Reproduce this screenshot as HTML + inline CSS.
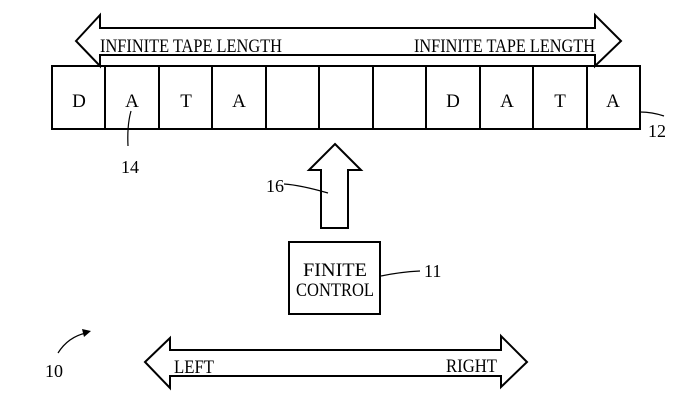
<!DOCTYPE html>
<html><head><style>body{margin:0;background:#fff}svg{display:block}</style></head><body>
<svg width="700" height="420" viewBox="0 0 700 420" xmlns="http://www.w3.org/2000/svg" font-family="Liberation Serif, serif" fill="none" stroke="#000" stroke-width="2">
<polygon points="76,41 100,15 100,28 595,28 595,15 621,41 595,66 595,55 100,55 100,66"/>
<g fill="#000" stroke="none" font-size="19">
<text x="100" y="52" textLength="182" lengthAdjust="spacingAndGlyphs">INFINITE TAPE LENGTH</text>
<text x="414" y="52" textLength="181" lengthAdjust="spacingAndGlyphs">INFINITE TAPE LENGTH</text>
</g>
<rect x="52" y="66" width="588" height="63"/>
<path d="M105,66V129M159,66V129M212,66V129M266,66V129M319,66V129M373,66V129M426,66V129M480,66V129M533,66V129M587,66V129"/>
<g fill="#000" stroke="none" font-size="19" text-anchor="middle">
<text x="79" y="107">D</text><text x="132" y="107">A</text><text x="186" y="107">T</text><text x="239" y="107">A</text>
<text x="453" y="107">D</text><text x="507" y="107">A</text><text x="560" y="107">T</text><text x="613" y="107">A</text>
</g>
<path stroke-width="1.2" d="M131,111 Q127,125 128,146"/>
<path stroke-width="1.2" d="M640,112 Q652,112 664,116"/>
<g fill="#000" stroke="none" font-size="18">
<text x="121" y="173">14</text><text x="648" y="137">12</text>
<text x="266" y="192">16</text><text x="424" y="277">11</text><text x="45" y="377">10</text>
</g>
<polygon points="335,144 361,170 348,170 348,228 321,228 321,170 309,170"/>
<path stroke-width="1.2" d="M284,184 Q300,185 328,193"/>
<rect x="289" y="242" width="91" height="72"/>
<g fill="#000" stroke="none" font-size="19" text-anchor="middle">
<text x="335" y="276" textLength="64" lengthAdjust="spacingAndGlyphs">FINITE</text><text x="335" y="296" textLength="78" lengthAdjust="spacingAndGlyphs">CONTROL</text>
</g>
<path stroke-width="1.2" d="M381,276 Q400,272 420,271"/>
<polygon points="145,362 170,338 170,350 501,350 501,336 527,362 501,387 501,376 170,376 170,388"/>
<g fill="#000" stroke="none" font-size="19">
<text x="174" y="373" textLength="40" lengthAdjust="spacingAndGlyphs">LEFT</text><text x="497" y="372" text-anchor="end" textLength="51" lengthAdjust="spacingAndGlyphs">RIGHT</text>
</g>
<path stroke-width="1.2" d="M58,353 Q68,337 86,333"/>
<polygon fill="#000" stroke="none" points="91,331 82,329 84,337"/>
</svg>
</body></html>
